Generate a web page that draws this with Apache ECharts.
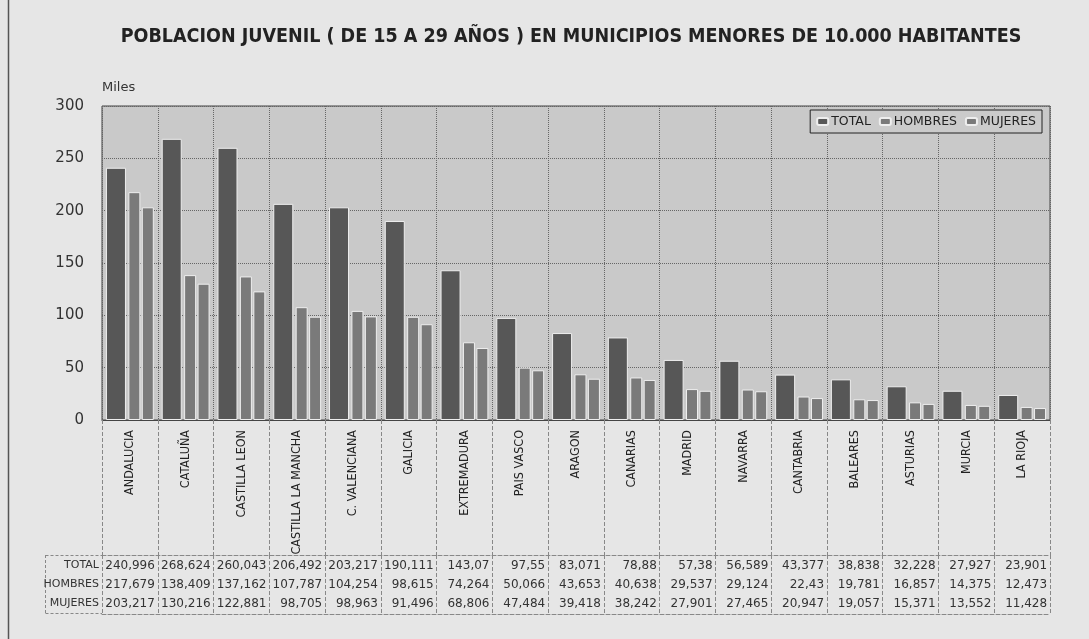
<!DOCTYPE html>
<html><head><meta charset="utf-8">
<script src="https://cdn.jsdelivr.net/npm/echarts@6/dist/echarts.min.js"></script>
<style>html,body{margin:0;padding:0;background:#e6e6e6;}#c{width:1089px;height:639px;}</style>
</head><body><div id="c"></div>
<script>
const categories = ['ANDALUCIA','CATALUÑA','CASTILLA LEON','CASTILLA LA MANCHA','C. VALENCIANA','GALICIA','EXTREMADURA','PAIS VASCO','ARAGON','CANARIAS','MADRID','NAVARRA','CANTABRIA','BALEARES','ASTURIAS','MURCIA','LA RIOJA'];
const total   = [240.996,268.624,260.043,206.492,203.217,190.111,143.07,97.55,83.071,78.88,57.38,56.589,43.377,38.838,32.228,27.927,23.901];
const hombres = [217.679,138.409,137.162,107.787,104.254,98.615,74.264,50.066,43.653,40.638,29.537,29.124,22.43,19.781,16.857,14.375,12.473];
const mujeres = [203.217,130.216,122.881,98.705,98.963,91.496,68.806,47.484,39.418,38.242,27.901,27.465,20.947,19.057,15.371,13.552,11.428];
const seriesNames = ['TOTAL','HOMBRES','MUJERES'];
const yTicks = [0,50,100,150,200,250,300];

const fmt = v => String(v).replace('.', ',');
const numFont = 'DejaVu Sans';
const tableAxis = (vals, margin, extra) => Object.assign({
  type: 'category', data: vals.map(fmt), gridIndex: 0, position: 'bottom', offset: 135,
  axisLine: {show: false}, axisTick: {show: false}, splitLine: {show: false},
  axisLabel: {interval: 0, margin: margin, color: '#333', fontFamily: numFont, fontSize: 12,
    formatter: v => '{a|' + v + '}', rich: {a: {width: 50, align: 'right', fontFamily: numFont, fontSize: 12, color: '#333'}}}
}, extra || {});

const chart = echarts.init(document.getElementById('c'));
chart.setOption({
  backgroundColor: '#e6e6e6',
  animation: false,
  title: {text: 'POBLACION JUVENIL ( DE 15 A 29 AÑOS ) EN MUNICIPIOS MENORES DE 10.000 HABITANTES',
    left: 566, top: 22, textAlign: 'center',
    textStyle: {fontFamily: 'Liberation Sans Narrow, Arial Narrow, DejaVu Sans Condensed, sans-serif', fontWeight: 'bold', fontSize: 19.5, color: '#222'}},
  legend: {data: seriesNames, right: 47, top: 110, itemWidth: 11, itemHeight: 7, itemGap: 8,
    borderColor: '#222', borderWidth: 1, padding: [5, 6], backgroundColor: '#cbcbcb',
    textStyle: {fontFamily: numFont, fontSize: 12.5, color: '#222', padding: [0,0,0,-2]}},
  grid: {left: 102, right: 39, top: 106, bottom: 219, show: true, backgroundColor: '#c9c9c9', borderColor: '#444', borderWidth: 1},
  xAxis: [
    {type: 'category', data: categories,
      axisLine: {lineStyle: {color: '#444'}},
      axisTick: {show: true, length: 135, lineStyle: {color: '#888', type: 'dashed'}},
      splitLine: {show: true, lineStyle: {color: '#666', type: 'dotted'}},
      axisLabel: {interval: 0, rotate: 90, margin: 10, color: '#222', fontFamily: 'DejaVu Sans Condensed, DejaVu Sans', fontSize: 12.5}},
    tableAxis(total, 5, {axisLine: {show: true, lineStyle: {color: '#888', type: 'dashed'}},
      axisTick: {show: true, length: 59, lineStyle: {color: '#888', type: 'dashed'}}}),
    tableAxis(hombres, 24),
    tableAxis(mujeres, 43),
    {type: 'category', data: categories, offset: 194, position: 'bottom',
      axisLine: {show: true, lineStyle: {color: '#888', type: 'dashed'}}, axisTick: {show: false}, axisLabel: {show: false}}
  ],
  yAxis: {type: 'value', min: 0, max: 300, interval: 50, name: 'Miles',
    nameLocation: 'end', nameGap: 12, nameTextStyle: {align: 'left', padding: [0,0,0,0], fontFamily: numFont, fontSize: 13, color: '#333'},
    axisLine: {show: false}, axisTick: {show: false},
    splitLine: {lineStyle: {color: '#666', type: 'dotted'}},
    axisLabel: {margin: 18, color: '#333', fontFamily: numFont, fontSize: 15}},
  series: [
    {name: 'TOTAL', type: 'bar', data: total, barWidth: 20, barGap: '12%', itemStyle: {color: '#575757', borderColor: '#eeeeee', borderWidth: 1}},
    {name: 'HOMBRES', type: 'bar', data: hombres, barWidth: 12, barGap: '12%', itemStyle: {color: '#7a7a7a', borderColor: '#eeeeee', borderWidth: 1}},
    {name: 'MUJERES', type: 'bar', data: mujeres, barWidth: 12, barGap: '12%', itemStyle: {color: '#7a7a7a', borderColor: '#eeeeee', borderWidth: 1}}
  ],
  graphic: [
    {type: 'line', shape: {x1: 8.5, y1: 0, x2: 8.5, y2: 639}, style: {stroke: '#555', lineWidth: 1.5}},
    {type: 'line', shape: {x1: 45.5, y1: 555, x2: 45.5, y2: 614}, style: {stroke: '#888', lineDash: [3,2]}},
    {type: 'line', shape: {x1: 45.5, y1: 555.5, x2: 102, y2: 555.5}, style: {stroke: '#888', lineDash: [3,2]}},
    {type: 'line', shape: {x1: 45.5, y1: 613.5, x2: 102, y2: 613.5}, style: {stroke: '#888', lineDash: [3,2]}},
    {type: 'text', right: 1089 - 99, top: 560, style: {text: seriesNames[0], textAlign: 'right', font: '11px DejaVu Sans', fill: '#333'}},
    {type: 'text', right: 1089 - 99, top: 579, style: {text: seriesNames[1], textAlign: 'right', font: '11px DejaVu Sans', fill: '#333'}},
    {type: 'text', right: 1089 - 99, top: 598, style: {text: seriesNames[2], textAlign: 'right', font: '11px DejaVu Sans', fill: '#333'}}
  ]
});
</script></body></html>
